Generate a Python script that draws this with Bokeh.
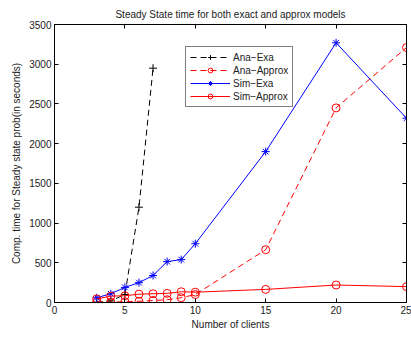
from bokeh.plotting import figure
from bokeh.models import LinearAxis, Range1d, FixedTicker, Legend, LegendItem
from bokeh.embed import file_html
from bokeh.resources import INLINE

# ---- data ----
ana_exa_x = [3, 4, 5, 6, 7]
ana_exa_y = [5, 20, 100, 1200, 2950]

ana_approx_x = [3, 4, 5, 6, 7, 8, 9, 10, 15, 20, 25]
ana_approx_y = [5, 5, 10, 15, 25, 35, 60, 100, 665, 2450, 3210]

sim_exa_x = [3, 4, 5, 6, 7, 8, 9, 10, 15, 20, 25]
sim_exa_y = [60, 110, 190, 250, 340, 515, 540, 740, 1900, 3270, 2320]

sim_approx_x = [3, 4, 5, 6, 7, 8, 9, 10, 15, 20, 25]
sim_approx_y = [45, 80, 85, 105, 110, 115, 135, 130, 165, 220, 200]

x_ticks = [0, 5, 10, 15, 20, 25]
y_ticks = [0, 500, 1000, 1500, 2000, 2500, 3000, 3500]

FONT = "Liberation Sans"

p = figure(width=411, height=338, output_backend="svg", toolbar_location=None,
           x_range=Range1d(0, 25), y_range=Range1d(0, 3500),
           min_border_left=54, min_border_right=5, min_border_top=24, min_border_bottom=36,
           title="Steady State time for both exact and approx models")
p.background_fill_color = "white"
p.border_fill_color = "white"
p.outline_line_color = "black"
p.outline_line_width = 1
p.xgrid.visible = False
p.ygrid.visible = False

p.title.text_font = FONT
p.title.text_font_size = "10px"
p.title.text_font_style = "normal"
p.title.align = "center"
p.title.text_color = "#222222"

for ax in (p.xaxis[0], p.yaxis[0]):
    ax.major_label_text_font = FONT
    ax.major_label_text_font_size = "10px"
    ax.axis_label_text_font = FONT
    ax.axis_label_text_font_size = "10px"
    ax.axis_label_text_font_style = "normal"
    ax.major_tick_in = 4
    ax.major_tick_out = 0
    ax.minor_tick_line_color = None
    ax.axis_line_color = "black"
    ax.major_label_text_color = "#222222"
    ax.axis_label_text_color = "#222222"

p.xaxis[0].ticker = FixedTicker(ticks=x_ticks)
p.yaxis[0].ticker = FixedTicker(ticks=y_ticks)
p.xaxis[0].axis_label = "Number of clients"
p.yaxis[0].axis_label = "Comp. time for Steady state prob(in seconds)"
p.xaxis[0].major_label_standoff = 3
p.yaxis[0].major_label_standoff = 3
p.xaxis[0].axis_label_standoff = 2
p.yaxis[0].axis_label_standoff = 4

# box ticks on top and right (no labels)
top = LinearAxis(ticker=FixedTicker(ticks=x_ticks), major_label_text_color=None,
                 major_label_overrides={t: "" for t in x_ticks},
                 major_tick_in=4, major_tick_out=0, minor_tick_line_color=None,
                 major_label_standoff=0, major_label_text_font_size="1px")
right = LinearAxis(ticker=FixedTicker(ticks=y_ticks), major_label_text_color=None,
                   major_label_overrides={t: "" for t in y_ticks},
                   major_tick_in=4, major_tick_out=0, minor_tick_line_color=None,
                   major_label_standoff=0, major_label_text_font_size="1px")
p.add_layout(top, "above")
p.add_layout(right, "right")

items = []
l1 = p.line(ana_exa_x, ana_exa_y, line_color="black", line_dash="6 4", line_width=1)
s1 = p.scatter(ana_exa_x, ana_exa_y, marker="cross", size=8, line_color="black", line_width=1)
items.append(LegendItem(label="Ana\u2212Exa", renderers=[l1, s1]))

l2 = p.line(ana_approx_x, ana_approx_y, line_color="red", line_dash="6 4", line_width=1)
s2 = p.scatter(ana_approx_x, ana_approx_y, marker="circle", size=8, line_color="red",
               fill_color=None, line_width=1)
items.append(LegendItem(label="Ana\u2212Approx", renderers=[l2, s2]))

l3 = p.line(sim_exa_x, sim_exa_y, line_color="blue", line_width=1)
s3 = p.scatter(sim_exa_x, sim_exa_y, marker="asterisk", size=8, line_color="blue", line_width=1)
items.append(LegendItem(label="Sim\u2212Exa", renderers=[l3, s3]))

l4 = p.line(sim_approx_x, sim_approx_y, line_color="red", line_width=1)
s4 = p.scatter(sim_approx_x, sim_approx_y, marker="circle", size=8, line_color="red",
               fill_color=None, line_width=1)
items.append(LegendItem(label="Sim\u2212Approx", renderers=[l4, s4]))

legend = Legend(items=items, location=(131, 195))
legend.label_text_font = FONT
legend.label_text_font_size = "10px"
legend.label_text_color = "#222222"
legend.border_line_color = "black"
legend.border_line_width = 1
legend.background_fill_color = "white"
legend.background_fill_alpha = 1
legend.glyph_width = 40
legend.glyph_height = 12
legend.label_height = 12
legend.spacing = 1
legend.padding = 4
legend.margin = 0
legend.label_standoff = 3
p.add_layout(legend, "center")

open("out.html", "w").write(file_html(p, INLINE))
